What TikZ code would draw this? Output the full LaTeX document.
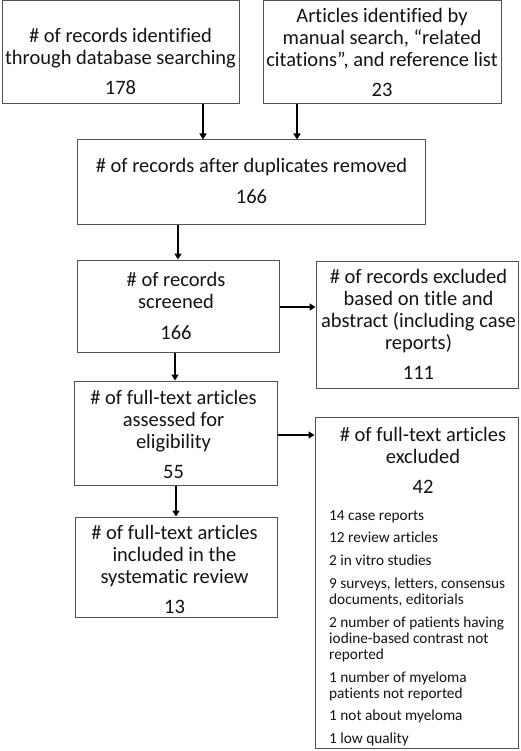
\documentclass[tikz,border=0pt]{standalone}
\usepackage{fontspec}
\setmainfont{Carlito}[Ligatures={NoCommon}]
\usetikzlibrary{arrows.meta}
\newcommand\mtxt{\fontsize{20.5}{22}\selectfont}
\newcommand\ltxt{\fontsize{15.3}{16}\selectfont}
\begin{document}
\begin{tikzpicture}[x=1pt,y=-1pt,
  box/.style={draw=black!68, line width=1pt, rectangle, inner sep=0pt},
  txt/.style={align=center, inner sep=0pt, font=\mtxt, text=black!92},
  arr/.style={draw=black, line width=2pt, -{Triangle[length=6pt,width=7pt]}}]
\fill[white] (0,0) rectangle (520,751);
\useasboundingbox (0,0) rectangle (520,751);
% boxes
\node[box, minimum width=237pt, minimum height=103pt] (A) at (120.5,52.5) {};
\node[box, minimum width=238pt, minimum height=103pt] (B) at (382,52.5) {};
\node[box, minimum width=348pt, minimum height=84pt] (C) at (251,182) {};
\node[box, minimum width=202pt, minimum height=92pt] (D) at (178,306) {};
\node[box, minimum width=202pt, minimum height=127pt] (E) at (417,324.5) {};
\node[box, minimum width=203pt, minimum height=104pt] (F) at (175.5,433) {};
\node[box, minimum width=203pt, minimum height=331pt] (G) at (416.5,582.5) {};
\node[box, minimum width=202pt, minimum height=100pt] (H) at (176,567) {};
% texts
\node[txt] (tA) at (120.5,61.5) {\# of records identified\\through database searching\\[8.5pt]178};
\node[txt] (tB) at (382,52.5) {Articles identified by\\manual search, “related\\citations”, and reference list\\[8.5pt]23};
\node[txt] (tC) at (251.5,181) {\# of records after duplicates removed\\[8.5pt]166};
\node[txt] (tD) at (176,306) {\# of records\\screened\\[8.5pt]166};
\node[txt] (tE) at (418.5,324.5) {\# of records excluded\\based on title and\\abstract (including case\\reports)\\[8.5pt]111};
\node[txt] (tF) at (173.5,434.5) {\# of full-text articles\\assessed for\\eligibility\\[8.5pt]55};
\node[txt] (tG) at (423,460.5) {\# of full-text articles\\excluded\\[8.5pt]42};
\node[txt] (tH) at (174.5,569.5) {\# of full-text articles\\included in the\\systematic review\\[8.5pt]13};
\node[align=left, inner sep=0pt, font=\ltxt, text=black!92, anchor=north west] (tL) at (329,510)
 {14 case reports\\[6.8pt]
  12 review articles\\[6.8pt]
  2 in vitro studies\\[6.8pt]
  9 surveys, letters, consensus\\documents, editorials\\[6.8pt]
  2 number of patients having\\iodine-based contrast not\\reported\\[6.8pt]
  1 number of myeloma\\patients not reported\\[6.8pt]
  1 not about myeloma\\[6.8pt]
  1 low quality};
% x/y guides
\coordinate (xa) at (203,0);
\coordinate (xb) at (297,0);
\coordinate (xc) at (178,0);
\coordinate (xd) at (175,0);
\coordinate (xf) at (176,0);
\coordinate (yd) at (0,307);
\coordinate (yf) at (0,435);
% connectors
\draw[arr] (A.south -| xa) -- (C.north -| xa);
\draw[arr] (B.south -| xb) -- (C.north -| xb);
\draw[arr] (C.south -| xc) -- (D.north -| xc);
\draw[arr] (D.east |- yd) -- (E.west |- yd);
\draw[arr] (D.south -| xd) -- (F.north -| xd);
\draw[arr] (F.east |- yf) -- (G.west |- yf);
\draw[arr] (F.south -| xf) -- (H.north -| xf);
\end{tikzpicture}
\end{document}
